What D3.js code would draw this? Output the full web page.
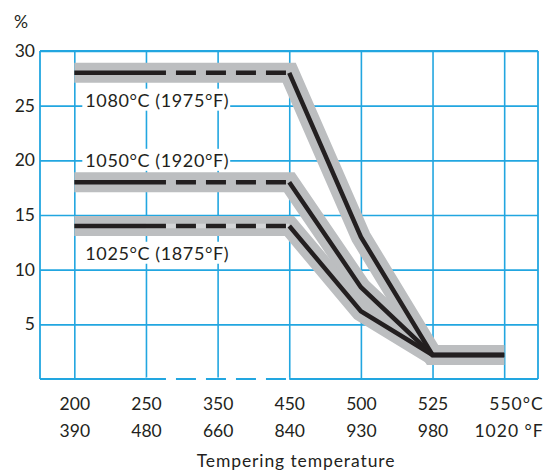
<!DOCTYPE html>
<html>
<head>
<meta charset="utf-8">
<script src="https://cdn.jsdelivr.net/npm/d3@7"></script>
<style>
  html, body { margin: 0; padding: 0; background: #fff; }
  svg { display: block; }
  text { font-family: Lato, "Open Sans", sans-serif; fill: #231f20; }
</style>
</head>
<body>
<svg id="chart" width="553" height="475"></svg>
<script>
// ---- data ----
const categoriesC = ["200", "250", "350", "450", "500", "525", "550"];
const categoriesF = ["390", "480", "660", "840", "930", "980", "1020"];
const yTickValues = [5, 10, 15, 20, 25, 30];
const seriesNames = ["1080°C (1975°F)", "1050°C (1920°F)", "1025°C (1875°F)"];
const values1080 = [28, 28, 28, 28, 13.0, 2.2, 2.2];
const values1050 = [18, 18, 18, 18, 8.4, 2.2, 2.2];
const values1025 = [14, 14, 14, 14, 6.2, 2.2, 2.2];
const labelValues = [25.5, 20.0, 11.5];
const dashedFrom = "250", dashedTo = "450";
const unitC = "°C", unitF = " °F";
const xTitle = "Tempering temperature";
const yTitle = "%";

// ---- layout ----
const mLeft = 40, mRight = 538, mTop = 51, mBottom = 379;
const gridColor = "#22a6e0", bandColor = "#bcbec0", lineColor = "#231f20";
const FONT = "Lato, 'Open Sans', sans-serif";

const svg = d3.select("#chart");
const x = d3.scalePoint().domain(categoriesC).range([38.5, 540]).padding(0.5);
const y = d3.scaleLinear().domain([0, 30]).range([mBottom, mTop]);

// grid: vertical
svg.append("g").attr("transform", `translate(0,${mBottom})`)
  .call(d3.axisBottom(x).tickSize(-(mBottom - mTop)).tickFormat(""))
  .call(g => g.select(".domain").remove())
  .selectAll("line").attr("stroke", gridColor).attr("stroke-width", 1.6);
// grid: horizontal
svg.append("g").attr("transform", `translate(${mLeft},0)`)
  .call(d3.axisLeft(y).tickValues(yTickValues).tickSize(-(mRight - mLeft)).tickFormat(""))
  .call(g => g.select(".domain").remove())
  .selectAll("line").attr("stroke", gridColor).attr("stroke-width", 1.6);

// frame
const frame = svg.append("g").attr("stroke", gridColor).attr("stroke-width", 1.8).attr("fill", "none");
frame.append("line").attr("x1", mLeft).attr("x2", mLeft).attr("y1", mTop).attr("y2", mBottom);
frame.append("line").attr("x1", mRight).attr("x2", mRight).attr("y1", mTop).attr("y2", mBottom);
frame.append("line").attr("x1", mLeft).attr("x2", mRight).attr("y1", mTop).attr("y2", mTop);
frame.append("line").attr("x1", mLeft).attr("x2", x(dashedFrom)).attr("y1", mBottom).attr("y2", mBottom);
frame.append("line").attr("x1", x(dashedFrom)).attr("x2", x(dashedTo)).attr("y1", mBottom).attr("y2", mBottom)
  .attr("stroke", "#fff").attr("stroke-width", 3);
frame.append("line").attr("x1", x(dashedFrom)).attr("x2", x(dashedTo)).attr("y1", mBottom).attr("y2", mBottom)
  .attr("stroke-dasharray", "20,10");
frame.append("line").attr("x1", x(dashedTo)).attr("x2", mRight).attr("y1", mBottom).attr("y2", mBottom);

// labels (white background)
const labelG = svg.append("g");
seriesNames.forEach((name, i) => {
  const g = labelG.append("g");
  const t = g.append("text")
    .attr("x", x(categoriesC[0]) + 11)
    .attr("y", y(labelValues[i]))
    .attr("dy", "0.36em")
    .attr("font-size", 18)
    .attr("letter-spacing", 0.6)
    .text(name);
  const b = t.node().getBBox();
  g.insert("rect", "text")
    .attr("x", b.x - 3).attr("y", b.y).attr("width", b.width + 4).attr("height", b.height)
    .attr("fill", "#fff");
});

// series
const allSeries = [values1080, values1050, values1025];
const line = d3.line().x((d, i) => x(categoriesC[i])).y(d => y(d));

// bands
allSeries.forEach(vals => {
  svg.append("path").attr("d", line(vals))
    .attr("fill", "none").attr("stroke", bandColor).attr("stroke-width", 20)
    .attr("stroke-linejoin", "miter").attr("stroke-linecap", "butt");
});

// light gaps under dashes of the lowest series
{
  const i0 = categoriesC.indexOf(dashedFrom), i1 = categoriesC.indexOf(dashedTo);
  const sub = values1025.slice(i0, i1 + 1);
  svg.append("path")
    .attr("d", d3.line().x((d, i) => x(categoriesC[i0 + i])).y(d => y(d))(sub))
    .attr("fill", "none").attr("stroke", "#d4d5d7").attr("stroke-width", 4.5);
}

// black lines with dashed run
function dashArray(l1, l2) {
  const segs = [[l1, true]];
  const pat = [20, 10];
  let pos = 0, k = 0;
  while (pos < l2 - 0.01) {
    const len = Math.min(pat[k % 2], l2 - pos);
    segs.push([len, k % 2 === 0]);
    pos += len; k++;
  }
  segs.push([10000, true]);
  const merged = [];
  segs.forEach(([len, on]) => {
    if (merged.length && merged[merged.length - 1][1] === on) merged[merged.length - 1][0] += len;
    else merged.push([len, on]);
  });
  return merged.map(s => s[0].toFixed(2)).join(",") + (merged.length % 2 ? ",0" : "");
}
allSeries.forEach(vals => {
  const l1 = x(dashedFrom) - x(categoriesC[0]);
  const l2 = x(dashedTo) - x(dashedFrom);
  svg.append("path").attr("d", line(vals))
    .attr("fill", "none").attr("stroke", lineColor).attr("stroke-width", 4.5)
    .attr("stroke-linejoin", "miter").attr("stroke-linecap", "butt")
    .attr("stroke-dasharray", dashArray(l1, l2));
});

// y axis labels
svg.append("g").attr("transform", `translate(${mLeft},0)`)
  .call(d3.axisLeft(y).tickValues(yTickValues).tickSize(0).tickPadding(5))
  .call(g => g.select(".domain").remove())
  .selectAll("text").attr("font-size", 17.5).attr("font-family", FONT).attr("fill", lineColor);

// x axis labels row 1 (°C) and row 2 (°F)
function xRow(padding, labels, unit) {
  const g = svg.append("g").attr("transform", `translate(0,${mBottom})`)
    .call(d3.axisBottom(x).tickSize(0).tickPadding(padding).tickFormat((d, i) => labels[i]))
    .call(g => g.select(".domain").remove());
  g.selectAll("text").attr("font-size", 17.5).attr("font-family", FONT).attr("fill", lineColor);
  const n = labels.length;
  g.selectAll("text").filter((d, i) => i === n - 1)
    .text(labels[n - 1] + unit).attr("text-anchor", "end").attr("x", 39)
    .attr("letter-spacing", 1);
}
xRow(19, categoriesC, unitC);
xRow(46, categoriesF, unitF);

svg.append("text").attr("x", 296).attr("y", 467).attr("text-anchor", "middle")
  .attr("font-size", 17.5).attr("letter-spacing", 0.9).text(xTitle);
svg.append("text").attr("x", 14).attr("y", 28).attr("font-size", 17.5).text(yTitle);
</script>
</body>
</html>
